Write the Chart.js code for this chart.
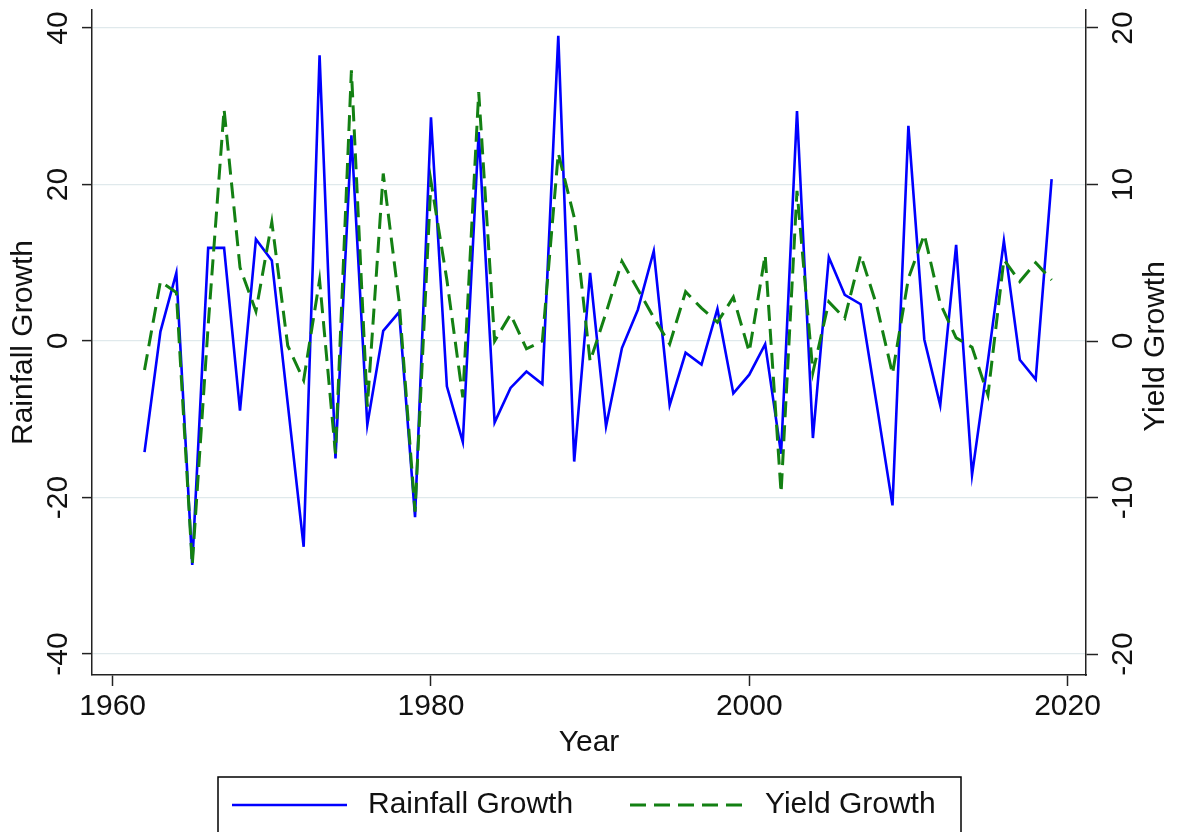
<!DOCTYPE html>
<html>
<head>
<meta charset="utf-8">
<script src="https://cdn.jsdelivr.net/npm/chart.js"></script>
<style>
  body { margin: 0; background: #fff; }
  #wrap { width: 1177px; height: 832px; }
</style>
</head>
<body>
<div id="wrap"><canvas id="myChart" width="1177" height="832"></canvas></div>
<script>
// values
const years = [
  1962, 1963, 1964, 1965, 1966, 1967, 1968, 1969,
  1970, 1971, 1972, 1973, 1974, 1975, 1976, 1977, 1978, 1979,
  1980, 1981, 1982, 1983, 1984, 1985, 1986, 1987, 1988, 1989,
  1990, 1991, 1992, 1993, 1994, 1995, 1996, 1997, 1998, 1999,
  2000, 2001, 2002, 2003, 2004, 2005, 2006, 2007, 2008, 2009,
  2010, 2011, 2012, 2013, 2014, 2015, 2016, 2017, 2018, 2019
];
const rainfallGrowth = [
  -14.2, 1.2, 8.7, -28.6, 11.9, 11.9, -8.9, 13.0,
  10.3, -8.0, -26.3, 36.5, -15.0, 26.3, -10.7, 1.3, 3.7, -22.5,
  28.6, -5.8, -12.9, 26.7, -10.4, -6.0, -3.9, -5.5, 39.0, -15.4,
  8.7, -10.9, -0.9, 4.0, 11.5, -8.2, -1.5, -3.0, 4.1, -6.7,
  -4.3, -0.4, -14.4, 29.4, -12.4, 10.7, 5.9, 4.7, -8.0, -21.0,
  27.5, 0.2, -8.2, 12.3, -17.1, -2.5, 12.8, -2.4, -4.9, 20.7
];
const yieldGrowth = [
  -1.85, 3.8, 3.1, -14.3, 1.0, 14.8, 4.7, 1.9,
  7.6, -0.3, -2.5, 3.9, -7.2, 17.3, -4.2, 10.7, 2.5, -10.9,
  10.2, 3.9, -3.6, 15.9, 0.0, 1.7, -0.5, 0.0, 12.0, 7.9,
  -1.3, 1.8, 5.1, 3.3, 1.5, -0.2, 3.15, 2.1, 1.2, 2.8,
  -0.7, 5.5, -9.7, 9.6, -2.0, 2.5, 1.45, 5.5, 2.3, -2.1,
  4.0, 6.8, 2.4, 0.2, -0.4, -3.45, 5.2, 3.8, 5.0, 3.9
];
const xTicks = [1960, 1980, 2000, 2020];
const leftTicks = [-40, -20, 0, 20, 40];
const rightTicks = [-20, -10, 0, 10, 20];

const FONT = '"Liberation Sans", Arial, sans-serif';
const INK = '#111';
const AXIS = '#222';

function rotText(ctx, txt, x, y) {
  ctx.save();
  ctx.translate(x, y);
  ctx.rotate(-Math.PI / 2);
  ctx.fillText(txt, 0, 0);
  ctx.restore();
}

// rotated y tick labels, right title and the boxed legend, Stata style
const stataBits = {
  id: 'stataBits',
  afterDraw(chart) {
    const ctx = chart.ctx;
    const y = chart.scales.y, y2 = chart.scales.y2;
    ctx.save();
    ctx.fillStyle = INK;
    ctx.font = '30px ' + FONT;
    ctx.textAlign = 'center';
    ctx.textBaseline = 'middle';
    leftTicks.forEach(v => rotText(ctx, String(v), y.right - 33, y.getPixelForValue(v)));
    rightTicks.forEach(v => rotText(ctx, String(v), y2.left + 38, y2.getPixelForValue(v)));
    rotText(ctx, 'Yield Growth', y2.left + 70, (y2.top + y2.bottom) / 2 + 4);

    // legend
    const top = chart.chartArea.bottom + 102;
    ctx.strokeStyle = '#000';
    ctx.lineWidth = 1.5;
    ctx.strokeRect(218, top, 743, 80);
    const ly = top + 28;
    const entries = [
      { ds: chart.data.datasets[0], x0: 232, x1: 347, tx: 368 },
      { ds: chart.data.datasets[1], x0: 630, x1: 750, tx: 765 }
    ];
    ctx.textAlign = 'left';
    entries.forEach(e => {
      ctx.save();
      ctx.strokeStyle = e.ds.borderColor;
      ctx.lineWidth = e.ds.borderWidth;
      ctx.setLineDash(e.ds.borderDash || []);
      ctx.beginPath();
      ctx.moveTo(e.x0, ly);
      ctx.lineTo(e.x1, ly);
      ctx.stroke();
      ctx.restore();
      ctx.fillText(e.ds.label, e.tx, ly);
    });
    ctx.restore();
  }
};

const canvas = document.getElementById('myChart');
const myChart = new Chart(canvas, {
  type: 'line',
  data: {
    datasets: [{
      label: 'Rainfall Growth',
      data: years.map((yr, i) => ({ x: yr, y: rainfallGrowth[i] })),
      yAxisID: 'y',
      borderColor: '#0000ff',
      borderWidth: 2.6,
      pointRadius: 0,
      tension: 0,
      order: 2
    }, {
      label: 'Yield Growth',
      data: years.map((yr, i) => ({ x: yr, y: yieldGrowth[i] })),
      yAxisID: 'y2',
      borderColor: '#138013',
      borderWidth: 3,
      borderDash: [16, 8],
      pointRadius: 0,
      tension: 0,
      order: 1
    }]
  },
  options: {
    responsive: false,
    animation: false,
    layout: { padding: { top: 10, bottom: 55, left: 0, right: 0 } },
    plugins: { legend: { display: false }, tooltip: { enabled: false } },
    scales: {
      x: {
        type: 'linear',
        min: 1958.7,
        max: 2021.16,
        afterBuildTicks: s => { s.ticks = xTicks.map(v => ({ value: v })); },
        afterFit: s => { s.height = 102; },
        ticks: { font: { size: 30, family: FONT }, color: INK, padding: 3, maxRotation: 0,
                 callback: v => String(v) },
        grid: { drawOnChartArea: false, drawTicks: true, tickLength: 11, tickColor: AXIS, tickWidth: 1.5 },
        border: { display: true, color: AXIS, width: 1.5 },
        title: { display: true, text: 'Year', font: { size: 30, family: FONT }, color: INK, padding: { top: 0, bottom: 16 } }
      },
      y: {
        position: 'left',
        min: -42.68,
        max: 42.3,
        afterBuildTicks: s => { s.ticks = leftTicks.map(v => ({ value: v })); },
        afterFit: s => { s.width = 92; },
        ticks: { display: false },
        grid: { color: '#e0e9ec', lineWidth: 1.2, tickLength: 10, tickColor: AXIS, tickWidth: 1.5 },
        border: { display: true, color: AXIS, width: 1.5 },
        title: { display: true, text: 'Rainfall Growth', font: { size: 30, family: FONT }, color: INK, padding: { top: 6, bottom: 0 } }
      },
      y2: {
        position: 'right',
        min: -21.34,
        max: 21.15,
        afterBuildTicks: s => { s.ticks = rightTicks.map(v => ({ value: v })); },
        afterFit: s => { s.width = 91; },
        ticks: { display: false },
        grid: { drawOnChartArea: false, tickLength: 12, tickColor: AXIS, tickWidth: 1.5 },
        border: { display: true, color: AXIS, width: 1.5 }
      }
    }
  },
  plugins: [stataBits]
});
</script>
</body>
</html>
